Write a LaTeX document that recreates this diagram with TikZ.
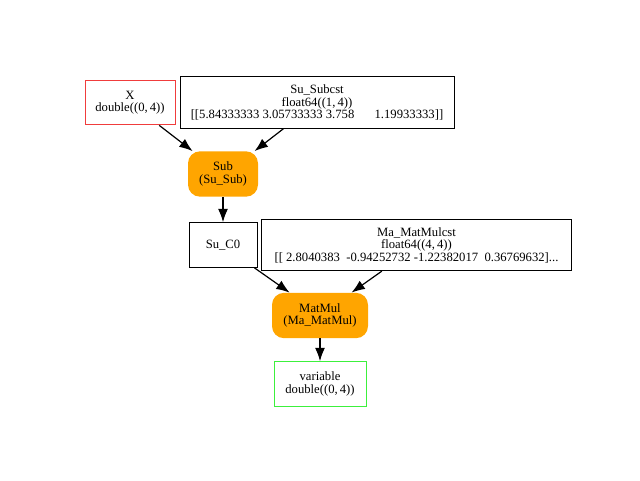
\documentclass[tikz,border=0pt]{standalone}
\usepackage{fontspec}
\setmainfont{Liberation Serif}
\usetikzlibrary{positioning,arrows.meta}
\definecolor{opfill}{HTML}{FFA500}
\definecolor{inred}{HTML}{F03C3C}
\definecolor{outgreen}{HTML}{3CF03C}
\tikzset{every node/.style={font=\fontsize{9.5pt}{9.4pt}\selectfont,align=center,inner sep=1pt}}
\tikzset{data/.style={draw=black,line width=0.75pt,minimum height=33.5pt}}
\tikzset{cst/.style={draw=black,line width=0.75pt,minimum height=38.5pt}}
\tikzset{op/.style={fill=opfill,rounded corners=9pt,minimum height=34pt}}
\tikzset{flow/.style={-{Latex[length=10pt,width=7.5pt]},line width=0.9pt}}

\begin{document}
\begin{tikzpicture}[x=0.75pt,y=-0.75pt]
  \useasboundingbox (0,0) rectangle (640,480);
  % inputs
  \node[data,draw=inred,minimum width=67.5pt] (X) at (130,102.5) {X\\double((0,\,4))};
  \node[cst,minimum width=205.5pt] (subcst) at (317,102.5)
    {Su\_Subcst\\float64((1,\,4))\\{[[}5.84333333 3.05733333 3.758\hspace{1.6em}1.19933333{]]}};
  \node[op,minimum width=52.5pt] (sub) at (223,174) {Sub\\(Su\_Sub)};
  % second stage
  \node[data,minimum width=51pt] (c0) at (223,245) {Su\_C0};
  \node[cst,minimum width=232pt] (mulcst) at (416.5,245)
    {Ma\_MatMulcst\\float64((4,\,4))\\{[[} 2.8040383~~-0.94252732 -1.22382017~~0.36769632{]}...};
  \node[op,minimum width=72pt] (matmul) at (320,315.5) {MatMul\\(Ma\_MatMul)};
  % output
  \node[data,draw=outgreen,minimum width=69pt] (out) at (320,384) {variable\\double((0,\,4))};

  \draw[flow] (X.-38) -- (sub.143);
  \draw[flow] (subcst.218) -- (sub.36);
  \draw[flow] (sub) -- (c0);
  \draw[flow] (c0.-36) -- (matmul.143);
  \draw[flow] (mulcst.217) -- (matmul.36);
  \draw[flow] (matmul) -- (out);
\end{tikzpicture}
\end{document}
